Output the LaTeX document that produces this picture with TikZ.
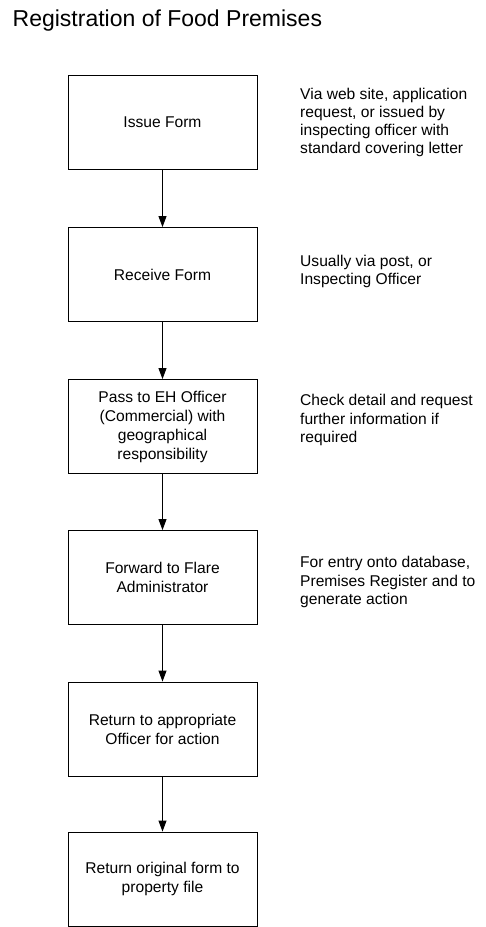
\documentclass[tikz,border=0pt]{standalone}
\usepackage{fontspec}
\setmainfont{Liberation Sans}
\usetikzlibrary{arrows.meta}
\tikzset{
  stepbox/.style={draw=black, line width=0.9pt, minimum width=189pt, minimum height=94pt, align=center, inner sep=0pt,
    font=\fontsize{15.6}{19}\selectfont},
  note/.style={anchor=west, align=left, inner sep=0pt, font=\fontsize{15.6}{18.3}\selectfont},
  flow/.style={line width=0.9pt, -{Triangle[width=8pt,length=11pt]}}
}
\begin{document}
\begin{tikzpicture}[x=1pt,y=-1pt]
\useasboundingbox (0,0) rectangle (485,927);
\node[anchor=base west, inner sep=0pt, font=\fontsize{23}{27}\selectfont] (title) at (12.5,26) {Registration of Food Premises};
\node[stepbox] (b1) at (162.5,122.5) {Issue Form};
\node[stepbox] (b2) at (162.5,274.5) {Receive Form};
\node[stepbox] (b3) at (162.5,426.5) {Pass to EH Officer\\(Commercial) with\\geographical\\responsibility};
\node[stepbox] (b4) at (162.5,577.5) {Forward to Flare\\Administrator};
\node[stepbox] (b5) at (162.5,729) {Return to appropriate\\Officer for action};
\node[stepbox] (b6) at (162.5,879) {Return original form to\\property file};
\draw[flow] (b1) -- (b2);
\draw[flow] (b2) -- (b3);
\draw[flow] (b3) -- (b4);
\draw[flow] (b4) -- (b5);
\draw[flow] (b5) -- (b6);
\node[note] (n1) at (300,122.5) {Via web site, application\\request, or issued by\\inspecting officer with\\standard covering letter};
\node[note] (n2) at (300,271.5) {Usually via post, or\\Inspecting Officer};
\node[note] (n3) at (300,420) {Check detail and request\\further information if\\required};
\node[note] (n4) at (300,582) {For entry onto database,\\Premises Register and to\\generate action};
\end{tikzpicture}
\end{document}
